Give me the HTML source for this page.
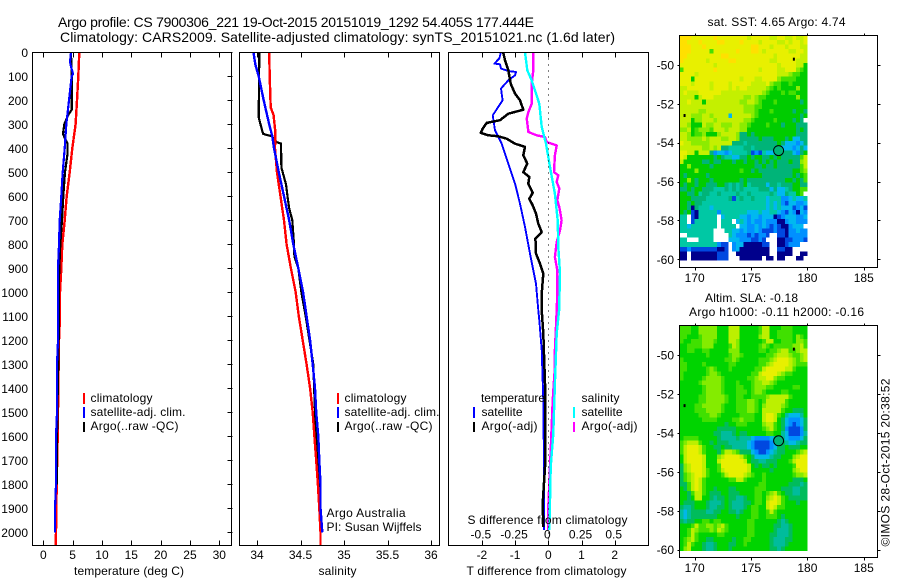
<!DOCTYPE html>
<html>
<head>
<meta charset="utf-8">
<title>Argo profile</title>
<style>
html,body{margin:0;padding:0;background:#fff}
svg{display:block;font-family:"Liberation Sans",sans-serif;font-size:12px;fill:#000}
text{stroke:none}
.t14{font-size:14px}
.frame{fill:none;stroke:#000;stroke-width:1;shape-rendering:crispEdges}
</style>
</head>
<body>
<svg id="fig" xmlns="http://www.w3.org/2000/svg" width="900" height="580" viewBox="0 0 900 580">
<rect x="0" y="0" width="900" height="580" fill="#fff"/>
<text class="t14" x="58" y="27" textLength="476">Argo profile: CS 7900306_221 19-Oct-2015 20151019_1292 54.405S 177.444E</text>
<text class="t14" x="60" y="42" textLength="555">Climatology: CARS2009. Satellite-adjusted climatology: synTS_20151021.nc (1.6d later)</text>

<g id="maps"></g>
<g id="plots"></g>

<rect class="frame" x="32.5" y="52.5" width="199" height="493"/>
<rect class="frame" x="239.5" y="52.5" width="200" height="493"/>
<rect class="frame" x="448.5" y="52.5" width="200" height="493"/>
<rect class="frame" x="679.5" y="35.5" width="198" height="232"/>
<rect class="frame" x="679.5" y="325.5" width="198" height="232"/>
<g id="ticks"></g>

<text x="74" y="575" textLength="110">temperature (deg C)</text>
<text x="318.5" y="575" textLength="38">salinity</text>
<text x="466.5" y="575" textLength="160">T difference from climatology</text>
<text x="467.5" y="524" textLength="160">S difference from climatology</text>

<g>
<rect x="83" y="393" width="2" height="11" fill="#f00"/>
<rect x="83" y="407" width="2" height="11" fill="#00f"/>
<rect x="83" y="422" width="2" height="10" fill="#000"/>
<text x="90.5" y="402" textLength="62">climatology</text>
<text x="90.5" y="416" textLength="95">satellite-adj. clim.</text>
<text x="90.5" y="430" textLength="88">Argo(..raw -QC)</text>
</g>
<g>
<rect x="337" y="393" width="2" height="11" fill="#f00"/>
<rect x="337" y="407" width="2" height="11" fill="#00f"/>
<rect x="337" y="422" width="2" height="10" fill="#000"/>
<text x="344.5" y="402" textLength="62">climatology</text>
<text x="344.5" y="416" textLength="95">satellite-adj. clim.</text>
<text x="344.5" y="430" textLength="88">Argo(..raw -QC)</text>
</g>
<g>
<text x="481" y="402" textLength="64">temperature</text>
<rect x="473" y="407" width="2" height="11" fill="#00f"/>
<rect x="473" y="422" width="2" height="10" fill="#000"/>
<text x="481.5" y="416" textLength="41">satellite</text>
<text x="481.5" y="430" textLength="56">Argo(-adj)</text>
<text x="581.5" y="402" textLength="38">salinity</text>
<rect x="573" y="407" width="2" height="11" fill="#0ff"/>
<rect x="573" y="422" width="2" height="10" fill="#f0f"/>
<text x="581.5" y="416" textLength="41">satellite</text>
<text x="581.5" y="430" textLength="56">Argo(-adj)</text>
</g>
<text x="326.5" y="517" textLength="79">Argo Australia</text>
<text x="326.5" y="531" textLength="95">PI: Susan Wijffels</text>

<text text-anchor="middle" x="776.5" y="26" textLength="138">sat. SST: 4.65 Argo: 4.74</text>
<text x="705" y="302" textLength="93">Altim. SLA: -0.18</text>
<text x="689" y="316" textLength="175">Argo h1000: -0.11 h2000: -0.16</text>
<text transform="translate(889.5,546.5) rotate(-90)" textLength="168">©IMOS 28-Oct-2015 20:38:52</text>
</svg>

<script>
// ---------- depth axis ----------
const depthTicks = [0,100,200,300,400,500,600,700,800,900,1000,1100,1200,1300,1400,1500,1600,1700,1800,1900,2000];
const tempTicks = [0,5,10,15,20,25,30];
const salTicks = [34,34.5,35,35.5,36];
const salTickLabels = ['34','34.5','35','35.5','36'];
const diffTTicks = [-2,-1,0,1,2];
const diffSTicks = [-0.5,-0.25,0,0.25,0.5];
const diffSTickLabels = ['-0.5','-0.25','0','0.25','0.5'];
const lonTicks = [170,175,180,185];
const latTicks = [-50,-52,-54,-56,-58,-60];

// ---------- temperature panel ----------
const tempClimDepth = [0,100,200,300,400,500,600,700,800,900,1000,1100,1200,1400,1600,1800,2000,2054];
const tempClimValue = [6.14,5.97,5.75,5.5,4.95,4.5,3.98,3.64,3.24,3.07,2.85,2.85,2.68,2.56,2.45,2.28,2.16,2.1];
const tempSatDepth = [0,40,60,90,100,200,300,400,500,600,700,800,900,1000,1200,1300,1500,1600,1800,1900,2000];
const tempSatValue = [4.72,4.55,4.72,5.06,4.84,4.38,3.92,3.64,3.3,3.07,2.8,2.68,2.5,2.5,2.5,2.33,2.33,2.16,2.16,2,2];
const tempArgoDepth = [0,100,240,260,300,340,350,380,420,460,500,600,700,800,900,1000,1100,1300,1500,1800];
const tempArgoValue = [4.72,4.84,4.84,4.26,3.58,3.36,3.53,4.15,4.15,3.92,3.7,3.41,3.19,2.9,2.73,2.62,2.68,2.56,2.39,2.28];

// ---------- salinity panel ----------
const salClimDepth = [0,100,230,260,330,400,500,600,700,800,900,1000,1100,1200,1300,1400,1500,1600,1700,1800,1900,2000,2054];
const salClimValue = [34.14,34.146,34.157,34.19,34.21,34.207,34.23,34.27,34.31,34.34,34.39,34.445,34.48,34.525,34.57,34.61,34.64,34.66,34.68,34.7,34.716,34.73,34.73];
const salSatDepth = [0,50,100,200,300,350,400,500,600,700,800,900,1000,1100,1200,1300,1400,1500,1600,1700,1800,1900,2000];
const salSatValue = [33.96,33.98,34.02,34.077,34.14,34.176,34.195,34.25,34.31,34.37,34.417,34.475,34.53,34.57,34.61,34.64,34.667,34.68,34.705,34.716,34.73,34.73,34.75];
const salArgoDepth = [0,270,300,340,350,375,380,480,500,550,600,650,700,800,850,900,1000,1100,1300,1500,1700,1900];
const salArgoValue = [34.027,34.02,34.04,34.07,34.17,34.226,34.276,34.28,34.295,34.333,34.35,34.37,34.406,34.425,34.43,34.475,34.51,34.56,34.647,34.667,34.705,34.724];

// ---------- difference panel ----------
const dTArgoDepth = [3,33,75,131,172,200,239,256,283,294,318,336,346,350,360,381,394,429,464,499,519,547,586,610,638,672,714,749,776,839,881,922,1006,1075,1172,1380,1728,1880,1977];
const dTArgoValue = [-1.355,-1.304,-1.204,-1.133,-1.003,-0.852,-0.752,-1.204,-1.455,-1.856,-1.977,-2.037,-1.806,-1.505,-1.254,-1.003,-0.702,-0.752,-0.632,-0.752,-0.572,-0.602,-0.471,-0.572,-0.471,-0.371,-0.3,-0.2,-0.39,-0.371,-0.25,-0.15,-0.2,-0.2,-0.15,-0.1,-0.1,-0.17,-0.15];
const dTSatDepth = [3,26,47,50,68,78,82,96,117,151,200,263,325,381,464,547,631,728,839,964,1075,1116,1241,1450,1728,1991];
const dTSatValue = [-1.435,-1.475,-1.625,-1.455,-1.425,-1.204,-0.973,-1.003,-1.204,-1.425,-1.375,-1.676,-1.606,-1.405,-1.204,-1.003,-0.852,-0.702,-0.552,-0.371,-0.3,-0.27,-0.2,-0.15,-0.13,-0.13];
const dSSatDepth = [3,75,117,214,311,381,478,589,700,811,922,1075,1172,1380,1589,1728,1991];
const dSSatValue = [-0.175,-0.158,-0.125,-0.068,-0.05,-0.017,0.013,0.05,0.071,0.075,0.088,0.081,0.063,0.05,0.038,0.018,0.008];
const dSArgoDepth = [3,75,131,214,249,276,332,346,353,374,388,429,499,513,540,568,617,644,700,742,790,853,908,1006,1075,1241,1311,1450,1658,1894,1991];
const dSArgoValue = [-0.113,-0.113,-0.125,-0.125,-0.15,-0.163,-0.15,-0.088,-0.025,-0.012,0.063,0.05,0.043,0.075,0.063,0.083,0.068,0.083,0.1,0.088,0.063,0.05,0.068,0.068,0.063,0.05,0.05,0.033,0.018,0,0];

// ---------- maps (colour class per grid cell, north to south) ----------
const sstRows = [
"lllkkkkkklkkkkkkkkjkkkkkjjkkjjkjjk",
"llkkklkkkkllkkkklkkkkjkkkkjjkjkkjk",
"lllkkklkkkkkkkkkkkkllkkkjkkkjkkkjj",
"lllkkkkkhkkkkkklkkkllkjkkkkkkjjkkj",
"llkkkkkkkkkllkkkkkkkkkkkkjkkkkkkjj",
"lkkkkkkjkkkkkllkkkkkkkkkjjkkkkkjjj",
"kkkkkkkkkjkkkkkkkkkkkkkkkkjkkkkjjg",
"hkkkkkkkklkkkkkkkkkkkjkkkkjjkkkihg",
"kkkkjkkkkkkkkkkkkkkkkkkkkkjjjihhgg",
"kkkgkkkkkkkkkkkkjkkkjjkkkkihhhhggg",
"kkkjkkkkjkkkkjkkkkkjjjjkihhgghgggg",
"jjkkkkkkjkkkkjkjkkjjjjjihghggggigg",
"jkjjjkkkkkkjjjjjjjjjjjihggghghhggg",
"jjjjgjkkkjjjjjjjjiijihhggggggggigg",
"jjkjjjgjjjjjjjjjiijjihggghggggggfg",
"jjjjjjjjjjjjjjjjjiiihhgggggggggggg",
"jjjjjiijjjjjjjjjjiiihggghgggggfggf",
"jjjiiijjijjjjdjjjjjihgggggggggggfg",
"jjjgiijjjijjjjjjjiihggggghggggfgf",
"jjigggjiijjiiijjiihgggghgggfgggfff",
"iijghiiihjjjijjjiigggggggggggggfgf",
"jjighhigggijjjjiffgfgggggggggggfff",
"jjiiiijijjjiijjifffffgfffgggfgddff",
"kjjiiiiijjjjjjfffeffffffffgfdddcdf",
"jjjjjjiijijffeeeeffefffffffdddcdfd",
"kkjjgjjjfcddcdeeeefbcbeddeffffdcfg",
"kjgggggggfgfeeddffgfggffgfgfffffhj",
"jgggggffgffgggfggfggfgfgfgfffgffij",
"ggigggggfgggggggggggffgffgffffffhj",
"ggggiggggggggggghggfgfffffffffgghi",
"gfgggggfggggggggggggggffffffffgfgh",
"ggigfgggfgggggggfgffffffffffggfgfh",
"gfggfggfffggfefefgeffffdffefffggff",
"ffgfggfffeeefefefeeeefffdfddefgghh",
"ggffgeffeefeeeefeefeeeeefeddfeegh.",
"gggffffeeeeeefbefeefeeedeeeccdedde",
"ggfgffeeeeeeeeeeeeeeeeededecbddccd",
"ggfafeeedeeeeeeeeeeeeeedededddbcdb",
"gfgbaeeeeeceeeeeeedddeddeedcbdcadc",
"ee.baeeeee.deeeeddcddcdddabcdddccd",
"ee.beeeeee.eee.dedcdccdcccaacddccc",
"eedeeeeeee.eeee.ddccdcdcbcbaacddd.",
"eeeeeeeee...eeddcdccdcbbbcbbaccdcc",
"..eeeeeee....edcccbcbccb..bbaccccc",
"ee...eeee....dddcccbbcb...aabbcccb",
"eeeeeeeeeecbb.cddaaaaabb..aabccc..",
"bbcbbbbbbbaab.cdaaaaaaaa..bbaa....",
"aa.aaaaaaabbb..aaaaaaaaa..aaaa..aa",
"aa.aaaaaaabbb...aaaaaa.aa.aa...aa."
];
const slaRows = [
"hhhggiiiiigggjjjggggghjjggghhhgggg",
"hhhggiiiiigggjjjggggghjjgghhhhgggg",
"hhggghiiiigggjjjgggggijjgghhhhgihg",
"hgghhhiiihgggjjigggggghjjgghhhgiih",
"gghhhhiiigggghjiggggghihghhhhhiijh",
"gghhgghhgggggiiiggggghhghhijjhhijj",
"ggggggghggggghiihgggggghhijjjihhij",
"hggggggggggghhihggggghhhijkkkjihij",
"hhgggghgggggghhgggggghhijkkkkjihhh",
"hhggggghihggghgggggghhjkkkkkjjhggg",
"hgggggghiihgggggggghhjkkkkjihhgggg",
"hggggghiiiihgggggghhijjkkihhgggggg",
"ggggghiiiiihggghggghiijjihgggggggg",
"gggggghiiiihggghhgghiiihhggggghhgg",
"gggggghiiiihggghhhghiihgggghhggggg",
"ggggghhiiiiihgghhgghhhhijjjjjhgggg",
"ggggghhiiiiihgghhhiihghjjjjjhggggg",
"gggghhiiiiihggghhhiihgijjjjihggggg",
"gggghhhiiiihggghhhiihgjjjjjhggfffg",
"ggggghhhiihggggghhhhggjkkjhgedddeg",
"gggggghhhhgggghhihhhggjkkjgfdcccdf",
"ggggggggggggfgghhhggggijjhgfdcbcdf",
"ggggggggggfffffggggggghijhgfcbbbcf",
"gggggggggffeeefgffggggghhggedbbbce",
"ghhhhgggggfeeeefeeedccccdefedcccdf",
"hijjjhggfgfffeeeeedcbbbbcdffeddeff",
"hjkkkjhggffgffeeeedcbbbbcdffgfffgg",
"hjkkkjhgggfhjjihfffdcbbcdeffggghij",
"gjkkkkjgggijkkkkjhgfddddeffgggijkk",
"gjkkkkjgggjkkkkkkjgffeefffggghjkkk",
"fijkkkjggghkkkkkkkjgfgffgfgggghkkk",
"fijkkkjhgghjkkkkkkjgggggfgggggijkk",
"fhijkkjhggghjkkkkjihgghggggggghiij",
"fhijkjhgggggghhjjhgggghgggggggfffg",
"ffhjkjhgggggggggggggghhggggggfffef",
"gfhjkjhggfgggffggggghhhggggfffeeff",
"ggfhjjhgfffggfffgggghhghijhgffeeff",
"ggfgjjggfeffgffeefgghhgijkjhgfffff",
"gfffgggfeeefgfeeeffghhgjkkjhgggfgg",
"feefgggfeeffgfeeefghhggjkjhhgggggg",
"edeffffeeffggffefgghhgghjhgggggggg",
"edefffffffgggggfggghhgghhhgfgggggg",
"feffgghhghhggggggghhggggggfefggggg",
"ggghjhhiihijhggggghhgggggffeefgggg",
"gghjihhhihjihggggghhgggggfeeefgggg",
"gghjhggggghhgggggghhggggffeeefgggg",
"ghijhggffgggggfgghhgggggfeeeffgggg",
"ghjhggfeefgggffgghggggggfeeefggggg",
"gijgggfeefgggfggggggggggffefgggggg"
];
const islandLons = [178.8,169.1];
const islandLats = [-49.7,-52.6];
const argoLon = 177.444;
const argoLat = -54.405;

const sstPalette = {a:'#00008c',b:'#0048e0',c:'#0090ff',d:'#00b8f0',e:'#00c8a4',f:'#00b478',g:'#00cc00',h:'#44e000',i:'#8cec00',j:'#c4f000',k:'#e8f000',l:'#ffe000'};
const slaPalette = {a:'#00008c',b:'#0048e0',c:'#0090ff',d:'#00b8e8',e:'#00bc9c',f:'#00bc5c',g:'#00d400',h:'#40e000',i:'#84ec00',j:'#bcf000',k:'#e8f000',l:'#ffe000'};

// ---------- scales ----------
const depthY = d => 52.3 + 0.24*d;
const tempX = v => 43.3 + 5.867*v;
const salX = v => 257 + 87*(v-34);
const dTX = v => 548.3 + 33.2*v;
const dSX = v => 548.3 + 132.8*v;
const lonX = v => 694.7 + 11.27*(v-170);
const sstLatY = v => 65 + 19.43*(-50-v);
const slaLatY = v => 355 + 19.47*(-50-v);

const NS = 'http://www.w3.org/2000/svg';
const plots = document.getElementById('plots');
const maps = document.getElementById('maps');
const ticks = document.getElementById('ticks');

function drawLine(xs, depths, xFn, color, name, width){
  const el = document.createElementNS(NS,'polyline');
  
  
  el.setAttribute('points', depths.map((d,i)=>xFn(xs[i]).toFixed(1)+','+depthY(d).toFixed(1)).join(' '));
  el.setAttribute('fill','none');
  el.setAttribute('stroke',color);
  el.setAttribute('stroke-width',width);
  el.setAttribute('stroke-linejoin','round');
  el.setAttribute('shape-rendering','crispEdges');
  plots.appendChild(el);
}
function drawText(x,y,str,anchor,name){
  const el = document.createElementNS(NS,'text');
  
  
  el.setAttribute('x',x);
  el.setAttribute('y',y);
  el.setAttribute('text-anchor',anchor);
  el.textContent = str;
  ticks.appendChild(el);
}
function drawTick(x1,y1,x2,y2){
  const el = document.createElementNS(NS,'line');
  
  
  el.setAttribute('x1',Math.round(x1)+0.5);
  el.setAttribute('y1',Math.round(y1)+0.5);
  el.setAttribute('x2',Math.round(x2)+0.5);
  el.setAttribute('y2',Math.round(y2)+0.5);
  el.setAttribute('stroke','#000');
  el.setAttribute('shape-rendering','crispEdges');
  ticks.appendChild(el);
}
function drawXAxis(values, labels, xFn, top, bottom, labelY){
  values.forEach((v,i)=>{
    const x = xFn(v);
    drawTick(x,top,x,top+5);
    drawTick(x,bottom-5,x,bottom);
    drawText(x,labelY,labels[i],'middle','x-tick-label');
  });
}

// profile lines
drawLine(tempClimValue,tempClimDepth,tempX,'#f00','temperature-climatology-line',2.4);
drawLine(tempArgoValue,tempArgoDepth,tempX,'#000','temperature-argo-line',2.2);
drawLine(tempSatValue,tempSatDepth,tempX,'#00f','temperature-satellite-line',2.2);
drawLine(salArgoValue,salArgoDepth,salX,'#000','salinity-argo-line',2.2);
drawLine(salClimValue,salClimDepth,salX,'#f00','salinity-climatology-line',2.4);
drawLine(salSatValue,salSatDepth,salX,'#00f','salinity-satellite-line',2.4);
drawLine(dTSatValue,dTSatDepth,dTX,'#00f','t-diff-satellite-line',1.9);
drawLine(dTArgoValue,dTArgoDepth,dTX,'#000','t-diff-argo-line',2.5);
drawLine(dSArgoValue,dSArgoDepth,dSX,'#f0f','s-diff-argo-line',2.4);
drawLine(dSSatValue,dSSatDepth,dSX,'#0ff','s-diff-satellite-line',2.4);

// zero line
const zero = document.createElementNS(NS,'line');


zero.setAttribute('x1',Math.round(dTX(0))+0.5);
zero.setAttribute('x2',Math.round(dTX(0))+0.5);
zero.setAttribute('y1',depthY(0));
zero.setAttribute('y2',545);
zero.setAttribute('stroke','#000');
zero.setAttribute('stroke-dasharray','1 5');
zero.setAttribute('shape-rendering','crispEdges');
ticks.appendChild(zero);

// depth ticks and labels
depthTicks.forEach(d=>{
  const y = depthY(d);
  drawTick(226.5,y,231.5,y);
  drawText(28,y+4.5,String(d),'end','depth-tick-label');
});
drawXAxis(tempTicks,tempTicks.map(String),tempX,52,545,559);
drawXAxis(salTicks,salTickLabels,salX,52,545,559);
drawXAxis(diffTTicks,diffTTicks.map(String),dTX,52,545,559);
diffSTicks.forEach((v,i)=>{
  drawText(dSX(v)-1,538.5,diffSTickLabels[i],'middle','s-difference-tick-label');
});

// maps
const lon0 = 168.65, dLon = 0.3336, lat0 = -48.47, dLat = 0.2367;
function drawMap(rows, palette, latY, boxTop, boxBottom, name){
  rows.forEach((row,r)=>{
    for(let c=0;c<row.length && c<34;c++){
      const color = palette[row[c]];
      if(!color) continue;
      const x1 = lonX(lon0+c*dLon), x2 = lonX(lon0+(c+1)*dLon);
      const y1 = latY(lat0-r*dLat), y2 = latY(lat0-(r+1)*dLat);
      const cell = document.createElementNS(NS,'rect');
      
      
      cell.setAttribute('x',x1.toFixed(2));
      cell.setAttribute('y',y1.toFixed(2));
      cell.setAttribute('width',(x2-x1).toFixed(2));
      cell.setAttribute('height',(y2-y1).toFixed(2));
      cell.setAttribute('fill',color);
      cell.setAttribute('shape-rendering','crispEdges');
      maps.appendChild(cell);
    }
  });
  islandLons.forEach((lon,i)=>{
    const dot = document.createElementNS(NS,'rect');
    
    
    dot.setAttribute('x',lonX(lon)-1);
    dot.setAttribute('y',latY(islandLats[i])-1.5);
    dot.setAttribute('width',2);
    dot.setAttribute('height',3);
    dot.setAttribute('fill','#000');
    maps.appendChild(dot);
  });
  const marker = document.createElementNS(NS,'circle');
  
  
  marker.setAttribute('cx',lonX(argoLon));
  marker.setAttribute('cy',latY(argoLat));
  marker.setAttribute('r',5);
  marker.setAttribute('fill','#00b478');
  marker.setAttribute('stroke','#000');
  marker.setAttribute('stroke-width','1');
  maps.appendChild(marker);

  lonTicks.forEach(v=>{
    const x = lonX(v);
    drawTick(x,boxTop-2.5,x,boxTop);
    drawTick(x,boxBottom,x,boxBottom+2.5);
    drawText(x,boxBottom+15,String(v),'middle','longitude-tick-label');
  });
  latTicks.forEach(v=>{
    const y = latY(v);
    drawTick(677,y,679,y);
    drawTick(877,y,880,y);
    drawText(674,y+4.5,String(v),'end','latitude-tick-label');
  });
}
drawMap(sstRows,sstPalette,sstLatY,35,267,'sst-cell');
drawMap(slaRows,slaPalette,slaLatY,325,557,'sla-cell');
</script>
</body>
</html>
